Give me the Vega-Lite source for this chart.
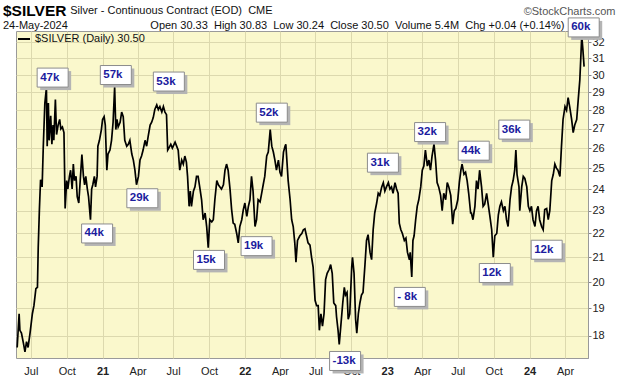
{
  "$schema": "https://vega.github.io/schema/vega-lite/v6.json",
  "width": 572,
  "height": 327,
  "autosize": {"type": "none"},
  "padding": {"left": 16, "top": 31, "right": 32, "bottom": 18},
  "background": "white",
  "title": {
    "text": "$SILVER",
    "subtitle": [
      "\u200b\u00a0\u00a0\u00a0\u00a0\u00a0\u00a0\u00a0\u00a0\u00a0\u00a0\u00a0\u00a0\u00a0\u00a0\u00a0\u00a0\u00a0\u00a0\u00a0\u00a0\u00a0\u00a0Silver - Continuous Contract (EOD)\u00a0\u00a0CME",
      "24-May-2024\u00a0\u00a0\u00a0\u00a0\u00a0\u00a0\u00a0\u00a0\u00a0\u00a0\u00a0\u00a0\u00a0\u00a0\u00a0\u00a0\u00a0\u00a0\u00a0\u00a0\u00a0\u00a0\u00a0\u00a0\u00a0\u00a0\u00a0Open 30.33\u00a0 High 30.83\u00a0 Low 30.24\u00a0 Close 30.50\u00a0 Volume 5.4M\u00a0 Chg +0.04 (+0.14%)"
    ],
    "anchor": "start",
    "frame": "group",
    "dx": -13,
    "offset": -26,
    "font": "Liberation Sans",
    "fontSize": 15.5,
    "fontWeight": "bold",
    "color": "#000000",
    "subtitleFont": "Liberation Sans",
    "subtitleFontSize": 11,
    "subtitleColor": "#111111",
    "subtitlePadding": -14,
    "subtitleLineHeight": 15
  },
  "config": {
    "view": {"fill": "#faf8cc", "stroke": "#9a9a9a", "strokeWidth": 1},
    "font": "Liberation Sans"
  },
  "datasets": {
    "px": [
      {"date": "2020-05-27", "close": 17.6}, {"date": "2020-06-01", "close": 18.8}, {"date": "2020-06-03", "close": 18.2}, {"date": "2020-06-07", "close": 18.1}, {"date": "2020-06-12", "close": 17.75}, {"date": "2020-06-16", "close": 17.45}, {"date": "2020-06-20", "close": 17.8}, {"date": "2020-06-24", "close": 17.6}, {"date": "2020-06-29", "close": 18.1},
      {"date": "2020-07-05", "close": 18.8}, {"date": "2020-07-09", "close": 19.1}, {"date": "2020-07-14", "close": 19.75}, {"date": "2020-07-18", "close": 19.8}, {"date": "2020-07-20", "close": 21.4}, {"date": "2020-07-23", "close": 23.05}, {"date": "2020-07-26", "close": 24.44}, {"date": "2020-07-30", "close": 24.1},
      {"date": "2020-08-02", "close": 26.1}, {"date": "2020-08-06", "close": 28.4}, {"date": "2020-08-10", "close": 29.26}, {"date": "2020-08-12", "close": 26.1}, {"date": "2020-08-15", "close": 28.4}, {"date": "2020-08-17", "close": 26.4}, {"date": "2020-08-21", "close": 27.7}, {"date": "2020-08-24", "close": 26.2}, {"date": "2020-08-27", "close": 27.2}, {"date": "2020-08-29", "close": 26.4},
      {"date": "2020-09-02", "close": 28.6}, {"date": "2020-09-05", "close": 26.7}, {"date": "2020-09-09", "close": 27.2}, {"date": "2020-09-13", "close": 27.5}, {"date": "2020-09-16", "close": 27.0}, {"date": "2020-09-20", "close": 27.1}, {"date": "2020-09-24", "close": 26.8}, {"date": "2020-09-26", "close": 24.4}, {"date": "2020-09-27", "close": 23.1},
      {"date": "2020-10-01", "close": 24.4}, {"date": "2020-10-04", "close": 24.0}, {"date": "2020-10-08", "close": 24.6}, {"date": "2020-10-11", "close": 24.9}, {"date": "2020-10-15", "close": 24.0}, {"date": "2020-10-18", "close": 25.2}, {"date": "2020-10-21", "close": 24.4}, {"date": "2020-10-25", "close": 24.6}, {"date": "2020-10-28", "close": 23.65},
      {"date": "2020-11-01", "close": 23.35}, {"date": "2020-11-04", "close": 24.2}, {"date": "2020-11-09", "close": 25.67}, {"date": "2020-11-13", "close": 24.6}, {"date": "2020-11-16", "close": 24.2}, {"date": "2020-11-19", "close": 24.6}, {"date": "2020-11-23", "close": 24.0}, {"date": "2020-11-26", "close": 23.65},
      {"date": "2020-12-01", "close": 22.6}, {"date": "2020-12-04", "close": 24.0}, {"date": "2020-12-07", "close": 24.2}, {"date": "2020-12-11", "close": 24.6}, {"date": "2020-12-14", "close": 24.1}, {"date": "2020-12-18", "close": 24.6}, {"date": "2020-12-20", "close": 26.1}, {"date": "2020-12-24", "close": 26.4}, {"date": "2020-12-29", "close": 26.96},
      {"date": "2021-01-01", "close": 27.5}, {"date": "2021-01-05", "close": 27.65}, {"date": "2021-01-08", "close": 27.2}, {"date": "2021-01-12", "close": 24.9}, {"date": "2021-01-15", "close": 25.7}, {"date": "2021-01-20", "close": 25.9}, {"date": "2021-01-24", "close": 26.4}, {"date": "2021-01-28", "close": 27.35},
      {"date": "2021-02-01", "close": 29.3}, {"date": "2021-02-04", "close": 26.96}, {"date": "2021-02-07", "close": 27.5}, {"date": "2021-02-10", "close": 27.1}, {"date": "2021-02-15", "close": 27.35}, {"date": "2021-02-19", "close": 27.9}, {"date": "2021-02-23", "close": 27.65}, {"date": "2021-02-27", "close": 26.4},
      {"date": "2021-03-04", "close": 26.1}, {"date": "2021-03-08", "close": 26.2}, {"date": "2021-03-12", "close": 26.4}, {"date": "2021-03-17", "close": 25.7}, {"date": "2021-03-21", "close": 25.4}, {"date": "2021-03-25", "close": 24.9}, {"date": "2021-03-29", "close": 24.2},
      {"date": "2021-04-03", "close": 24.6}, {"date": "2021-04-07", "close": 25.4}, {"date": "2021-04-11", "close": 25.6}, {"date": "2021-04-15", "close": 25.9}, {"date": "2021-04-20", "close": 26.4}, {"date": "2021-04-24", "close": 26.1}, {"date": "2021-04-28", "close": 26.6},
      {"date": "2021-05-03", "close": 27.2}, {"date": "2021-05-07", "close": 27.35}, {"date": "2021-05-11", "close": 27.6}, {"date": "2021-05-15", "close": 28.04}, {"date": "2021-05-20", "close": 28.3}, {"date": "2021-05-24", "close": 28.04}, {"date": "2021-05-28", "close": 28.2},
      {"date": "2021-06-02", "close": 27.9}, {"date": "2021-06-06", "close": 28.2}, {"date": "2021-06-10", "close": 27.9}, {"date": "2021-06-14", "close": 27.76}, {"date": "2021-06-17", "close": 25.9}, {"date": "2021-06-20", "close": 26.0}, {"date": "2021-06-25", "close": 26.2}, {"date": "2021-06-29", "close": 26.0},
      {"date": "2021-07-06", "close": 26.3}, {"date": "2021-07-10", "close": 26.1}, {"date": "2021-07-14", "close": 25.9}, {"date": "2021-07-18", "close": 24.9}, {"date": "2021-07-23", "close": 25.4}, {"date": "2021-07-27", "close": 25.2}, {"date": "2021-07-31", "close": 25.6},
      {"date": "2021-08-04", "close": 25.3}, {"date": "2021-08-07", "close": 24.6}, {"date": "2021-08-11", "close": 23.2}, {"date": "2021-08-14", "close": 23.9}, {"date": "2021-08-17", "close": 23.2}, {"date": "2021-08-22", "close": 23.9}, {"date": "2021-08-26", "close": 24.1}, {"date": "2021-08-30", "close": 24.6},
      {"date": "2021-09-03", "close": 24.6}, {"date": "2021-09-08", "close": 24.0}, {"date": "2021-09-12", "close": 23.5}, {"date": "2021-09-16", "close": 22.6}, {"date": "2021-09-21", "close": 22.9}, {"date": "2021-09-25", "close": 22.3}, {"date": "2021-09-29", "close": 21.4},
      {"date": "2021-10-03", "close": 22.6}, {"date": "2021-10-08", "close": 22.5}, {"date": "2021-10-12", "close": 22.6}, {"date": "2021-10-16", "close": 23.5}, {"date": "2021-10-21", "close": 24.4}, {"date": "2021-10-25", "close": 24.2}, {"date": "2021-10-29", "close": 24.1},
      {"date": "2021-11-02", "close": 24.0}, {"date": "2021-11-07", "close": 24.2}, {"date": "2021-11-11", "close": 24.9}, {"date": "2021-11-15", "close": 25.2}, {"date": "2021-11-19", "close": 24.9}, {"date": "2021-11-24", "close": 23.97}, {"date": "2021-11-28", "close": 23.05},
      {"date": "2021-12-02", "close": 22.45}, {"date": "2021-12-06", "close": 22.4}, {"date": "2021-12-11", "close": 22.0}, {"date": "2021-12-15", "close": 21.6}, {"date": "2021-12-19", "close": 22.3}, {"date": "2021-12-24", "close": 22.6}, {"date": "2021-12-28", "close": 23.05},
      {"date": "2022-01-01", "close": 23.35}, {"date": "2022-01-06", "close": 22.75}, {"date": "2022-01-10", "close": 23.2}, {"date": "2022-01-14", "close": 23.5}, {"date": "2022-01-18", "close": 24.6}, {"date": "2022-01-22", "close": 23.9}, {"date": "2022-01-27", "close": 22.3}, {"date": "2022-01-31", "close": 22.6},
      {"date": "2022-02-04", "close": 23.5}, {"date": "2022-02-09", "close": 23.4}, {"date": "2022-02-13", "close": 23.8}, {"date": "2022-02-17", "close": 24.2}, {"date": "2022-02-21", "close": 24.6}, {"date": "2022-02-26", "close": 25.6},
      {"date": "2022-03-02", "close": 25.8}, {"date": "2022-03-07", "close": 26.96}, {"date": "2022-03-11", "close": 26.1}, {"date": "2022-03-15", "close": 25.8}, {"date": "2022-03-19", "close": 25.4}, {"date": "2022-03-23", "close": 24.9}, {"date": "2022-03-28", "close": 25.4},
      {"date": "2022-04-01", "close": 24.8}, {"date": "2022-04-05", "close": 24.6}, {"date": "2022-04-10", "close": 25.8}, {"date": "2022-04-14", "close": 26.1}, {"date": "2022-04-16", "close": 26.2}, {"date": "2022-04-18", "close": 25.6}, {"date": "2022-04-22", "close": 24.4}, {"date": "2022-04-27", "close": 23.5},
      {"date": "2022-05-01", "close": 22.6}, {"date": "2022-05-05", "close": 22.3}, {"date": "2022-05-09", "close": 21.6}, {"date": "2022-05-12", "close": 20.8}, {"date": "2022-05-16", "close": 21.7}, {"date": "2022-05-22", "close": 21.9}, {"date": "2022-05-27", "close": 22.0}, {"date": "2022-05-31", "close": 22.16},
      {"date": "2022-06-04", "close": 22.2}, {"date": "2022-06-08", "close": 21.9}, {"date": "2022-06-12", "close": 21.6}, {"date": "2022-06-17", "close": 21.5}, {"date": "2022-06-21", "close": 21.0}, {"date": "2022-06-25", "close": 20.6}, {"date": "2022-06-30", "close": 19.3},
      {"date": "2022-07-04", "close": 19.1}, {"date": "2022-07-08", "close": 19.1}, {"date": "2022-07-11", "close": 18.2}, {"date": "2022-07-15", "close": 18.8}, {"date": "2022-07-19", "close": 18.35}, {"date": "2022-07-23", "close": 18.8}, {"date": "2022-07-27", "close": 20.1}, {"date": "2022-07-31", "close": 20.35},
      {"date": "2022-08-05", "close": 20.5}, {"date": "2022-08-09", "close": 20.7}, {"date": "2022-08-13", "close": 20.35}, {"date": "2022-08-17", "close": 19.2}, {"date": "2022-08-22", "close": 19.1}, {"date": "2022-08-24", "close": 18.7}, {"date": "2022-08-28", "close": 18.2}, {"date": "2022-08-31", "close": 17.7},
      {"date": "2022-09-04", "close": 18.35}, {"date": "2022-09-09", "close": 19.2}, {"date": "2022-09-13", "close": 19.8}, {"date": "2022-09-16", "close": 19.5}, {"date": "2022-09-20", "close": 19.6}, {"date": "2022-09-23", "close": 18.6}, {"date": "2022-09-27", "close": 18.8},
      {"date": "2022-10-02", "close": 20.6}, {"date": "2022-10-04", "close": 21.0}, {"date": "2022-10-08", "close": 20.35}, {"date": "2022-10-12", "close": 18.6}, {"date": "2022-10-15", "close": 18.1}, {"date": "2022-10-19", "close": 18.8}, {"date": "2022-10-23", "close": 19.2}, {"date": "2022-10-27", "close": 19.5}, {"date": "2022-10-31", "close": 19.6},
      {"date": "2022-11-05", "close": 20.7}, {"date": "2022-11-09", "close": 21.7}, {"date": "2022-11-13", "close": 21.95}, {"date": "2022-11-18", "close": 21.2}, {"date": "2022-11-22", "close": 20.9}, {"date": "2022-11-26", "close": 22.16}, {"date": "2022-11-30", "close": 22.9},
      {"date": "2022-12-05", "close": 23.35}, {"date": "2022-12-09", "close": 23.8}, {"date": "2022-12-13", "close": 23.7}, {"date": "2022-12-18", "close": 24.1}, {"date": "2022-12-22", "close": 24.3}, {"date": "2022-12-26", "close": 23.9}, {"date": "2022-12-30", "close": 24.1},
      {"date": "2023-01-04", "close": 24.3}, {"date": "2023-01-08", "close": 24.0}, {"date": "2023-01-12", "close": 24.1}, {"date": "2023-01-16", "close": 23.8}, {"date": "2023-01-21", "close": 24.3}, {"date": "2023-01-25", "close": 24.0}, {"date": "2023-01-29", "close": 23.8},
      {"date": "2023-02-01", "close": 22.45}, {"date": "2023-02-05", "close": 22.16}, {"date": "2023-02-09", "close": 22.0}, {"date": "2023-02-14", "close": 21.7}, {"date": "2023-02-18", "close": 21.8}, {"date": "2023-02-22", "close": 21.2}, {"date": "2023-02-27", "close": 20.9},
      {"date": "2023-03-01", "close": 21.2}, {"date": "2023-03-05", "close": 20.2}, {"date": "2023-03-08", "close": 21.7}, {"date": "2023-03-11", "close": 21.9}, {"date": "2023-03-15", "close": 22.6}, {"date": "2023-03-19", "close": 23.2}, {"date": "2023-03-23", "close": 23.5}, {"date": "2023-03-28", "close": 24.1},
      {"date": "2023-04-01", "close": 24.9}, {"date": "2023-04-05", "close": 25.1}, {"date": "2023-04-09", "close": 25.9}, {"date": "2023-04-14", "close": 25.1}, {"date": "2023-04-18", "close": 25.4}, {"date": "2023-04-22", "close": 24.9}, {"date": "2023-04-26", "close": 25.6},
      {"date": "2023-05-01", "close": 26.2}, {"date": "2023-05-05", "close": 25.4}, {"date": "2023-05-09", "close": 24.3}, {"date": "2023-05-13", "close": 24.1}, {"date": "2023-05-18", "close": 23.7}, {"date": "2023-05-22", "close": 23.0}, {"date": "2023-05-26", "close": 23.8}, {"date": "2023-05-31", "close": 23.5},
      {"date": "2023-06-04", "close": 24.3}, {"date": "2023-06-08", "close": 24.1}, {"date": "2023-06-13", "close": 23.7}, {"date": "2023-06-18", "close": 22.4}, {"date": "2023-06-22", "close": 23.0}, {"date": "2023-06-26", "close": 23.1},
      {"date": "2023-07-01", "close": 23.5}, {"date": "2023-07-05", "close": 24.3}, {"date": "2023-07-09", "close": 24.9}, {"date": "2023-07-12", "close": 25.2}, {"date": "2023-07-17", "close": 24.7}, {"date": "2023-07-21", "close": 24.8}, {"date": "2023-07-25", "close": 24.4}, {"date": "2023-07-29", "close": 23.8},
      {"date": "2023-08-03", "close": 22.9}, {"date": "2023-08-05", "close": 22.9}, {"date": "2023-08-09", "close": 22.6}, {"date": "2023-08-14", "close": 23.2}, {"date": "2023-08-18", "close": 24.4}, {"date": "2023-08-22", "close": 24.0}, {"date": "2023-08-26", "close": 24.9}, {"date": "2023-08-31", "close": 24.1},
      {"date": "2023-09-04", "close": 23.2}, {"date": "2023-09-08", "close": 23.3}, {"date": "2023-09-13", "close": 23.8}, {"date": "2023-09-17", "close": 23.3}, {"date": "2023-09-21", "close": 22.8}, {"date": "2023-09-26", "close": 22.16}, {"date": "2023-09-30", "close": 21.0},
      {"date": "2023-10-04", "close": 21.9}, {"date": "2023-10-09", "close": 22.0}, {"date": "2023-10-13", "close": 22.8}, {"date": "2023-10-17", "close": 23.2}, {"date": "2023-10-21", "close": 23.4}, {"date": "2023-10-26", "close": 23.0}, {"date": "2023-10-30", "close": 23.2},
      {"date": "2023-11-03", "close": 22.6}, {"date": "2023-11-07", "close": 22.3}, {"date": "2023-11-12", "close": 23.5}, {"date": "2023-11-16", "close": 24.1}, {"date": "2023-11-20", "close": 24.4}, {"date": "2023-11-24", "close": 24.9}, {"date": "2023-11-27", "close": 25.9}, {"date": "2023-11-30", "close": 24.7},
      {"date": "2023-12-05", "close": 24.1}, {"date": "2023-12-07", "close": 23.0}, {"date": "2023-12-12", "close": 24.1}, {"date": "2023-12-16", "close": 24.6}, {"date": "2023-12-20", "close": 24.5}, {"date": "2023-12-25", "close": 24.1}, {"date": "2023-12-29", "close": 23.2},
      {"date": "2024-01-02", "close": 23.0}, {"date": "2024-01-06", "close": 23.2}, {"date": "2024-01-10", "close": 22.6}, {"date": "2024-01-15", "close": 22.3}, {"date": "2024-01-19", "close": 23.0}, {"date": "2024-01-23", "close": 23.2}, {"date": "2024-01-27", "close": 22.6},
      {"date": "2024-02-01", "close": 22.3}, {"date": "2024-02-05", "close": 22.16}, {"date": "2024-02-09", "close": 23.05}, {"date": "2024-02-14", "close": 23.1}, {"date": "2024-02-18", "close": 22.6}, {"date": "2024-02-22", "close": 23.0}, {"date": "2024-02-27", "close": 24.4},
      {"date": "2024-03-02", "close": 24.7}, {"date": "2024-03-06", "close": 25.2}, {"date": "2024-03-10", "close": 25.0}, {"date": "2024-03-14", "close": 24.9}, {"date": "2024-03-19", "close": 24.6}, {"date": "2024-03-23", "close": 26.1}, {"date": "2024-03-27", "close": 27.5},
      {"date": "2024-04-01", "close": 28.2}, {"date": "2024-04-05", "close": 28.0}, {"date": "2024-04-09", "close": 28.7}, {"date": "2024-04-13", "close": 28.2}, {"date": "2024-04-18", "close": 27.5}, {"date": "2024-04-22", "close": 26.8}, {"date": "2024-04-26", "close": 27.2},
      {"date": "2024-05-01", "close": 27.5}, {"date": "2024-05-05", "close": 28.6}, {"date": "2024-05-09", "close": 29.7}, {"date": "2024-05-14", "close": 32.4}, {"date": "2024-05-17", "close": 31.5}, {"date": "2024-05-20", "close": 30.5}
    ],
    "ann": [
      {"date": "2020-08-26", "price": 29.85, "label": "47k"},
      {"date": "2020-12-18", "price": 22.0, "label": "44k"},
      {"date": "2021-02-04", "price": 30.0, "label": "57k"},
      {"date": "2021-04-13", "price": 23.57, "label": "29k"},
      {"date": "2021-06-20", "price": 29.62, "label": "53k"},
      {"date": "2021-10-01", "price": 20.89, "label": "15k"},
      {"date": "2022-01-31", "price": 21.46, "label": "19k"},
      {"date": "2022-03-11", "price": 27.87, "label": "52k"},
      {"date": "2022-09-15", "price": 17.14, "label": "-13k"},
      {"date": "2022-12-21", "price": 25.27, "label": "31k"},
      {"date": "2023-02-28", "price": 19.43, "label": "- 8k"},
      {"date": "2023-04-21", "price": 26.83, "label": "32k"},
      {"date": "2023-08-11", "price": 25.87, "label": "44k"},
      {"date": "2023-10-04", "price": 20.36, "label": "12k"},
      {"date": "2023-11-23", "price": 26.96, "label": "36k"},
      {"date": "2024-02-14", "price": 21.31, "label": "12k"},
      {"date": "2024-05-19", "price": 32.93, "label": "60k"}
    ]
  },
  "encoding": {
    "x": {
      "field": "date",
      "type": "temporal",
      "scale": {"type": "utc", "domain": [{"year": 2020, "month": 5, "date": 24, "utc": true}, {"year": 2024, "month": 5, "date": 30, "utc": true}]},
      "axis": {
        "title": null,
        "values": [
          {"year": 2020, "month": 7, "date": 1, "utc": true}, {"year": 2020, "month": 10, "date": 1, "utc": true},
          {"year": 2021, "month": 1, "date": 1, "utc": true}, {"year": 2021, "month": 4, "date": 1, "utc": true}, {"year": 2021, "month": 7, "date": 1, "utc": true}, {"year": 2021, "month": 10, "date": 1, "utc": true},
          {"year": 2022, "month": 1, "date": 1, "utc": true}, {"year": 2022, "month": 4, "date": 1, "utc": true}, {"year": 2022, "month": 7, "date": 1, "utc": true}, {"year": 2022, "month": 10, "date": 1, "utc": true},
          {"year": 2023, "month": 1, "date": 1, "utc": true}, {"year": 2023, "month": 4, "date": 1, "utc": true}, {"year": 2023, "month": 7, "date": 1, "utc": true}, {"year": 2023, "month": 10, "date": 1, "utc": true},
          {"year": 2024, "month": 1, "date": 1, "utc": true}, {"year": 2024, "month": 4, "date": 1, "utc": true}
        ],
        "labelExpr": "utcmonth(datum.value) == 0 ? utcFormat(datum.value, '%y') : utcFormat(datum.value, '%b')",
        "labelFontWeight": {"condition": {"test": "utcmonth(datum.value) == 0", "value": "bold"}, "value": "normal"},
        "labelFont": "Liberation Sans",
        "labelFontSize": 11,
        "labelColor": "#222222",
        "ticks": false,
        "labelPadding": 7,
        "domain": false,
        "grid": true,
        "gridColor": "#dcd9ae",
        "gridWidth": 1
      }
    }
  },
  "layer": [
    {
      "data": {"name": "px"},
      "mark": {"type": "line", "strokeWidth": 1.7},
      "encoding": {
        "y": {
          "field": "close",
          "type": "quantitative",
          "scale": {"type": "log", "domain": [17.24, 32.7], "nice": false, "zero": false},
          "axis": {
            "orient": "right",
            "values": [18, 19, 20, 21, 22, 23, 24, 25, 26, 27, 28, 29, 30, 31, 32],
            "format": "d",
            "labelFont": "Liberation Sans",
            "labelFontSize": 11,
            "labelColor": "#222222",
            "tickSize": 3,
            "tickColor": "#888888",
            "labelPadding": 1,
            "domain": true,
            "domainColor": "#999999",
            "domainDash": [1, 1],
            "grid": true,
            "gridColor": "#dcd9ae",
            "gridWidth": 1,
            "title": "©StockCharts.com",
            "titleAngle": 0,
            "titleAlign": "right",
            "titleBaseline": "alphabetic",
            "titleX": 27,
            "titleY": -17,
            "titleFont": "Liberation Sans",
            "titleFontSize": 11,
            "titleFontWeight": "normal",
            "titleColor": "#555555"
          }
        },
        "color": {
          "datum": "$SILVER (Daily) 30.50",
          "scale": {"range": ["#000000"]},
          "legend": {
            "orient": "top-left",
            "offset": 1,
            "padding": 0,
            "title": null,
            "symbolType": "stroke",
            "symbolStrokeWidth": 2,
            "symbolSize": 144,
            "labelFont": "Liberation Sans",
            "labelFontSize": 11,
            "labelColor": "#111111",
            "labelOffset": 4
          }
        }
      }
    },
    {
      "data": {"name": "ann"},
      "mark": {"type": "point", "shape": "M-1.25,-0.65H1.85V1.25H-1.25Z", "size": 400, "filled": true, "fill": "#b4b4b4", "opacity": 1, "strokeWidth": 0},
      "encoding": {"y": {"field": "price", "type": "quantitative"}}
    },
    {
      "data": {"name": "ann"},
      "mark": {"type": "point", "shape": "M-1.55,-0.95H1.55V0.95H-1.55Z", "size": 400, "filled": true, "fill": "#ffffff", "stroke": "#8c8c8c", "strokeWidth": 1, "opacity": 1},
      "encoding": {"y": {"field": "price", "type": "quantitative"}}
    },
    {
      "data": {"name": "ann"},
      "mark": {"type": "text", "align": "left", "baseline": "middle", "dx": -12.5, "font": "Liberation Sans", "fontSize": 11.5, "fontWeight": "bold", "color": "#1b1b9e"},
      "encoding": {"y": {"field": "price", "type": "quantitative"}, "text": {"field": "label"}}
    }
  ]
}
